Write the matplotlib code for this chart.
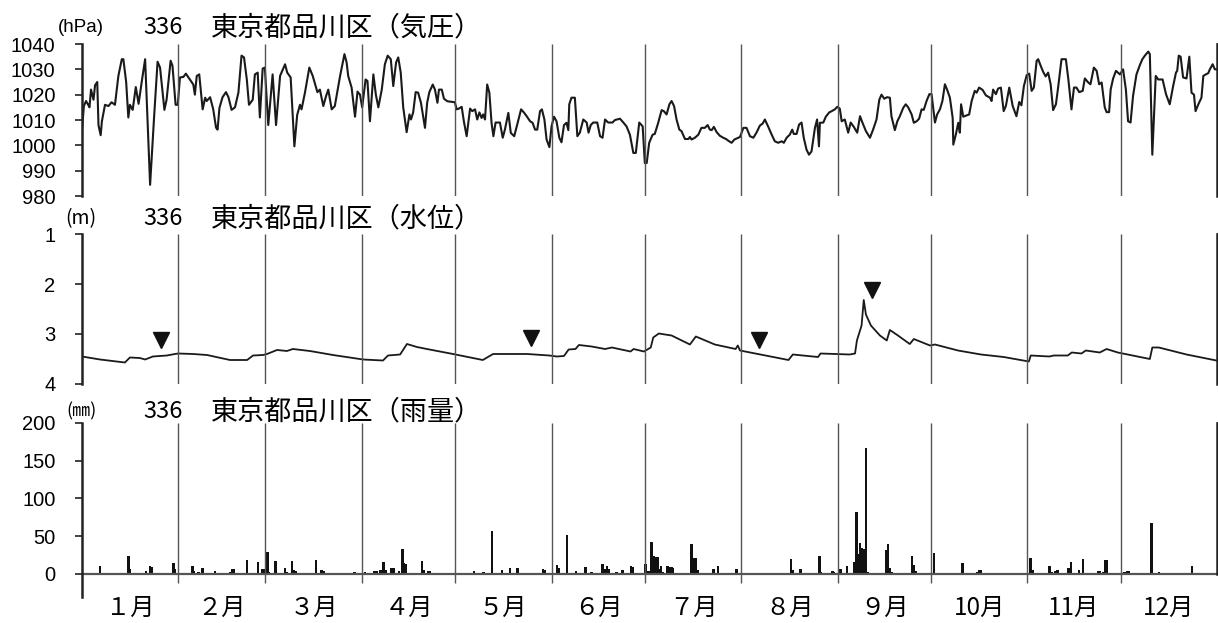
import matplotlib
matplotlib.use('Agg')
import numpy as np
import matplotlib.pyplot as plt

plt.rcParams['font.family'] = ['Noto Sans CJK JP', 'DejaVu Sans']

# ---- data (x = day of year, 0 = 1 Jan) ----
month_len = [31, 28, 31, 30, 31, 30, 31, 31, 30, 31, 30, 31]
month_labels = ['１月', '２月', '３月', '４月', '５月', '６月',
                '７月', '８月', '９月', '10月', '11月', '12月']

station = '336'
title_press = '東京都品川区（気圧）'
title_level = '東京都品川区（水位）'
title_rain = '東京都品川区（雨量）'

press_ticks = [980, 990, 1000, 1010, 1020, 1030, 1040]
level_ticks = [1, 2, 3, 4]
rain_ticks = [0, 50, 100, 150, 200]

p_day = [0.0, 0.6, 1.3, 2.0, 2.4, 2.9, 3.7, 4.2, 4.9, 5.3, 6.0, 6.4, 7.4, 8.5, 9.5, 10.6,
         11.7, 12.8, 13.3, 14.2, 14.9, 15.4, 16.3, 17.3, 18.2, 19.2, 20.3, 21.9, 23.2, 24.3,
         25.1, 26.5, 27.2, 28.5, 29.1, 30.1, 30.8, 31.5, 32.6, 33.4, 34.7, 35.8, 36.3, 36.9,
         37.7, 38.8, 39.6, 40.1, 41.2, 42.2, 43.1, 43.6, 44.2, 45.2, 46.3, 47.1, 48.1, 49.2,
         50.3, 51.3, 52.1, 53.0, 53.7, 54.9, 55.6, 56.5, 57.2, 58.1, 58.8, 59.9, 61.3, 62.4,
         63.7, 65.3, 66.0, 67.1, 68.3, 69.2, 70.1, 70.6, 71.7, 73.1, 74.2, 75.7, 76.5, 77.6,
         78.5, 79.2, 80.3, 81.3, 83.0, 84.4, 85.1, 85.6, 86.7, 87.8, 88.6, 89.4, 90.1, 91.2,
         91.8, 92.6,
         93.7, 94.5, 95.3, 96.4, 97.4, 98.3, 99.3, 100.1, 101.0, 101.7, 102.5, 103.3, 104.4,
         105.3, 105.8, 106.5, 107.3, 108.1, 109.0, 110.3, 111.0, 111.7, 112.8, 113.5, 114.3,
         114.8, 115.7, 116.4, 117.5, 119.9, 120.5, 121.2, 122.1, 122.8, 123.7, 124.8, 125.5,
         126.4, 127.1, 127.8, 128.5, 129.0, 129.6, 130.3, 131.0, 131.7, 132.3, 133.0, 134.4,
         135.3, 136.0, 137.1, 137.9, 139.0, 139.8, 141.2, 142.1, 143.0, 144.1, 144.9, 145.7,
         146.4, 147.3, 147.9, 148.7, 149.4, 150.3, 151.0, 151.8, 152.6, 153.5, 154.2, 155.0,
         155.8, 156.4, 156.7, 157.4, 158.5, 159.3, 160.1, 161.2, 162.3, 162.9, 163.6, 164.4,
         165.7, 166.6, 167.4, 168.2, 169.2, 170.6, 171.4, 173.0, 174.1, 175.1, 176.2, 177.3,
         178.1, 179.2, 180.3, 181.0,
         181.6, 182.4, 183.5, 184.2, 185.3, 186.4, 187.1, 188.0, 188.9, 189.6, 190.4, 191.2,
         192.1, 192.8, 193.9, 195.0, 195.5, 196.0, 197.1, 198.2, 199.2, 200.3, 201.2, 201.9,
         202.5, 203.2, 204.1, 205.1, 206.2, 207.1, 208.1, 208.9, 209.8, 211.6, 212.7, 213.7,
         214.8, 215.9, 216.9, 218.0, 218.9, 219.6, 220.7, 221.8, 222.8, 223.9, 225.0, 225.7,
         226.6, 227.6, 228.4, 228.9, 229.8, 230.6, 231.4, 232.1, 233.0, 233.8, 234.6, 235.7,
         236.4, 237.0, 237.3, 238.4, 239.2, 240.3, 241.1, 242.1, 242.9, 243.7, 244.3, 245.3,
         246.4, 247.2, 248.2, 249.3, 250.2, 251.0, 252.1, 253.4, 254.4, 255.5, 256.4, 257.1,
         258.0, 258.9, 259.8, 260.3, 261.4, 262.2, 263.0, 264.1, 264.9, 265.7, 266.8, 267.5,
         268.4, 269.2, 270.0, 270.7,
         271.6, 272.5, 273.2, 274.3, 275.0, 275.9, 276.7, 277.5, 278.2, 279.1, 280.0, 280.2,
         281.0, 281.8, 282.3, 282.7, 283.4, 284.5, 285.3, 286.1, 287.1, 287.7, 288.5, 289.6,
         290.7, 292.0, 292.5, 293.0, 293.9, 294.6, 295.5, 296.4, 297.1, 298.2, 299.3, 300.5,
         301.4, 302.1, 302.9, 303.8, 304.6, 305.4, 306.1, 307.0, 307.5, 308.3, 309.1, 309.9,
         310.7, 311.5, 312.3, 313.2, 313.9, 315.0, 316.4, 317.2, 318.2, 319.0, 319.8, 320.7,
         321.8, 322.5, 323.6, 324.3, 325.4, 326.3, 327.1, 327.9, 328.9, 329.5, 330.3, 330.8,
         331.6, 332.5, 333.8, 334.8, 335.7, 336.4, 337.2, 338.0, 339.1, 340.2, 341.0, 341.8,
         342.9, 343.4, 344.2, 345.3, 346.1, 347.5, 348.6, 349.8, 350.9, 351.8, 352.2, 352.7,
         353.3, 354.1, 355.2, 356.1, 356.8, 357.6, 358.1, 359.0, 360.0, 360.6, 361.4, 362.2,
         362.7, 363.6, 364.3, 365.0]
p_hpa = [1006.2, 1015.5, 1017.5, 1016.0, 1015.0, 1022.0, 1018.0, 1023.7, 1025.0, 1008.0,
         1004.0, 1009.5, 1016.0, 1015.5, 1017.0, 1016.0, 1027.4, 1034.0, 1034.0, 1025.0,
         1011.0, 1016.0, 1014.0, 1023.0, 1016.4, 1025.0, 1034.0, 984.4, 1011.5, 1033.0,
         1030.7, 1014.0, 1018.0, 1033.4, 1031.4, 1016.0, 1016.0, 1026.8, 1027.0, 1028.3,
         1026.0, 1024.0, 1020.0, 1027.4, 1028.0, 1014.2, 1018.8, 1017.5, 1019.0, 1014.2,
         1007.0, 1006.2, 1014.8, 1019.0, 1021.0, 1019.0, 1014.0, 1015.0, 1020.8, 1035.4,
         1034.7, 1026.0, 1016.0, 1018.0, 1028.0, 1028.7, 1011.0, 1030.3, 1030.7, 1008.0,
         1028.0, 1008.0, 1027.4, 1032.0, 1028.7, 1026.8, 999.6, 1012.0, 1016.0, 1014.2,
         1020.8, 1030.7, 1027.4, 1021.0, 1022.0, 1015.5, 1019.5, 1022.0, 1014.2, 1015.5,
         1027.4, 1036.0, 1032.7, 1027.4, 1022.8, 1011.3, 1021.2, 1020.0, 1015.0, 1026.0,
         1025.4, 1009.5,
         1028.0, 1020.0, 1015.0, 1022.0, 1032.0, 1035.4, 1034.0, 1023.4, 1032.7, 1034.7,
         1028.7, 1015.0, 1005.2, 1012.2, 1010.2, 1013.0, 1021.0, 1020.8, 1016.8, 1006.9,
         1016.8, 1021.0, 1024.0, 1022.0, 1016.8, 1022.0, 1022.0, 1018.4, 1017.4, 1017.0,
         1014.2, 1014.5, 1015.2, 1009.5, 1003.6, 1014.5, 1013.5, 1014.2, 1010.2, 1013.0,
         1010.8, 1012.2, 1010.2, 1024.0, 1020.8, 1008.9, 1003.6, 1009.0, 1009.0, 1003.0,
         1006.2, 1012.8, 1004.9, 1003.6, 1007.5, 1014.2, 1013.0, 1011.5, 1009.5, 1008.9,
         1006.2, 1006.2, 1013.5, 1014.2, 1010.2, 1002.3, 999.3, 1007.5, 1011.3, 1009.5,
         1003.0, 1001.2, 1008.0, 1008.9, 1006.0, 1016.2, 1018.8, 1018.8, 1003.6, 1005.0,
         1010.2, 1009.0, 1005.0, 1008.0, 1009.0, 1009.0, 1003.6, 1003.0, 1010.2, 1009.0,
         1009.0, 1010.0, 1010.5, 1009.0, 1007.5, 1004.2, 997.0, 997.0, 1009.0, 1007.5,
         993.0,
         993.0, 1001.0, 1004.2, 1004.5, 1008.9, 1013.9, 1013.5, 1012.2, 1016.2, 1017.5,
         1015.5, 1010.2, 1006.2, 1005.6, 1002.5, 1002.5, 1003.3, 1002.3, 1003.0, 1004.2,
         1006.9, 1006.9, 1008.0, 1006.2, 1006.0, 1007.3, 1005.2, 1003.8, 1003.0, 1002.5,
         1001.6, 1001.0, 1002.3, 1003.3, 1006.9, 1006.9, 1003.6, 1003.0, 1005.0, 1007.8,
         1008.6, 1010.2, 1007.3, 1004.2, 1001.6, 1001.0, 1001.6, 1001.0, 1003.0, 1004.2,
         1006.2, 1004.5, 1004.5, 1008.2, 1009.0, 1003.0, 998.3, 996.3, 997.6, 1006.9,
         1010.2, 999.6, 1008.9, 1009.0, 1011.3, 1013.0, 1013.5, 1014.2, 1015.2, 1014.5,
         1009.5, 1010.2, 1005.0, 1009.0, 1007.3, 1005.0, 1011.5, 1008.9, 1005.6, 1003.0,
         1006.2, 1010.2, 1018.0, 1020.0, 1018.4, 1019.0, 1018.8, 1011.5, 1006.0, 1009.5,
         1011.5, 1014.8, 1016.2, 1015.0, 1012.2, 1008.9, 1009.5, 1010.5, 1014.2, 1014.0,
         1017.5, 1020.2, 1020.2, 1009.0, 1012.2, 1014.2, 1017.5, 1024.1, 1022.0, 1018.8,
         1010.8, 1000.3, 1004.2, 1008.9, 1005.0, 1016.2, 1011.3, 1011.8, 1012.2, 1017.5,
         1021.5, 1020.8, 1022.8, 1021.9, 1019.7, 1018.8, 1017.5, 1022.0, 1020.2, 1022.4,
         1022.8, 1013.5, 1015.5, 1022.8, 1015.5, 1011.5, 1017.1, 1015.8, 1023.4, 1027.7,
         1028.3, 1021.5, 1022.8, 1033.4, 1034.0, 1031.4, 1029.0, 1027.2, 1028.7, 1024.1,
         1013.9, 1016.2, 1022.8, 1034.0, 1034.0, 1026.0, 1014.2, 1022.8, 1022.8, 1021.0,
         1021.5, 1026.4, 1024.8, 1024.1, 1030.7, 1029.4, 1024.1, 1024.8, 1015.0, 1013.1,
         1013.1, 1022.0, 1026.4, 1029.4, 1028.0, 1030.0, 1022.0, 1009.5, 1009.0, 1019.5,
         1028.0, 1031.7, 1034.0, 1035.4, 1037.0, 1036.0, 996.3, 1027.4, 1026.0, 1026.0,
         1020.2, 1016.2, 1023.4, 1028.7, 1029.4, 1035.4, 1035.0, 1026.8, 1026.4, 1035.0,
         1020.8, 1020.0, 1013.5, 1016.2, 1018.8, 1027.4, 1028.0, 1028.5, 1030.0, 1032.0,
         1030.0, 1030.0]

w_day = [0.0, 5.8, 13.8, 15.4, 18.6, 20.3, 22.8, 27.3, 29.9, 30.9, 35.7, 40.2, 47.6, 53.1,
         55.0, 58.2, 59.5, 62.7, 65.9, 67.8, 73.3, 80.7, 90.4, 96.8, 98.4, 102.3, 104.5,
         107.7, 110.9, 119.3, 128.9, 132.2, 134.4, 143.2, 150.3, 152.7, 155.0, 156.5, 158.7,
         159.8, 163.9, 168.2, 170.4, 176.4, 177.4, 180.7, 182.9, 183.7, 185.5, 187.5, 189.6,
         195.5, 197.4, 203.5, 210.2, 210.9, 211.6, 219.8, 227.2, 228.6, 236.7, 237.5, 246.9,
         248.6, 249.2, 250.7, 251.4, 252.1, 253.7, 256.6, 258.8, 259.8, 262.4, 266.2, 267.5,
         272.7, 274.3, 281.7, 289.1, 296.4, 304.5, 305.1, 311.1, 312.5, 317.0, 318.3, 321.4,
         322.8, 327.3, 329.5, 333.1, 343.4, 344.2, 346.3, 355.2, 364.8]
w_lvl = [3.45, 3.51, 3.57, 3.47, 3.48, 3.51, 3.45, 3.43, 3.40, 3.39, 3.40, 3.42, 3.52, 3.52,
         3.43, 3.42, 3.40, 3.32, 3.34, 3.30, 3.34, 3.42, 3.51, 3.53, 3.43, 3.41, 3.20, 3.26,
         3.30, 3.40, 3.52, 3.40, 3.40, 3.40, 3.43, 3.45, 3.44, 3.31, 3.30, 3.22, 3.25, 3.30,
         3.27, 3.35, 3.30, 3.35, 3.27, 3.07, 2.99, 3.01, 3.03, 3.21, 3.05, 3.21, 3.30, 3.23,
         3.33, 3.43, 3.52, 3.41, 3.46, 3.39, 3.41, 3.39, 3.13, 2.83, 2.32, 2.61, 2.83, 3.03,
         3.13, 2.92, 3.03, 3.20, 3.10, 3.23, 3.21, 3.33, 3.41, 3.46, 3.55, 3.43, 3.45, 3.43,
         3.43, 3.37, 3.39, 3.33, 3.37, 3.30, 3.37, 3.50, 3.27, 3.27, 3.41, 3.53]

mark_day = [25.4, 144.4, 217.7, 254.0]
mark_lvl = [3.12, 3.08, 3.12, 2.12]

r_day = [5.8, 14.9, 15.3, 20.6, 21.8, 22.3, 25.6, 29.5, 29.9, 35.5, 36.0, 37.4, 38.7, 42.8,
         47.8, 48.4, 48.9, 52.5, 53.0, 53.6, 56.6, 58.1, 58.5, 59.6, 60.0, 62.2, 65.3, 65.9,
         67.6, 68.2, 68.7, 75.2, 77.0, 77.6, 87.7, 91.0, 94.1, 94.8, 96.0, 96.5, 97.0, 97.6,
         99.5, 100.3, 102.0, 103.0, 103.6, 104.2, 106.5, 109.4, 110.0, 111.2, 111.7, 126.0,
         129.1, 131.8, 135.0, 137.6, 140.0, 148.2, 148.9, 152.8, 153.4, 156.0, 158.9, 161.9,
         163.9, 167.4, 168.0, 168.9, 169.5, 171.9, 173.8, 176.5, 177.1, 181.2, 181.9, 182.7,
         183.2, 183.8, 184.4, 185.0, 185.6, 186.2, 186.8, 188.3, 188.9, 189.5, 190.1, 196.0,
         197.0, 197.5, 198.1, 203.1, 204.5, 210.5, 221.0, 223.0, 228.0, 228.6, 231.0, 237.1,
         237.5, 239.5, 241.3, 241.9, 243.4, 244.0, 246.0, 248.4, 249.0, 249.7, 250.2, 250.8,
         251.4, 252.1, 252.7, 258.6, 259.2, 259.8, 260.3, 266.9, 267.4, 268.0, 268.5, 274.0,
         283.1, 287.9, 288.5, 289.1, 300.5, 305.1, 305.7, 311.2, 311.8, 313.1, 313.7, 317.3,
         318.1, 320.7, 321.9, 326.7, 327.3, 328.5, 329.1, 329.7, 335.3, 336.1, 336.7, 343.9,
         346.3, 356.9]
r_mm = [10.6, 24.3, 6.6, 4.4, 10.6, 9.7, 1.8, 15.0, 6.0, 10.6, 4.4, 3.0, 7.5, 4.4,
        3.0, 6.2, 6.6, 1.8, 18.5, 1.8, 15.5, 6.2, 6.2, 28.7, 3.0, 17.7, 7.5, 3.0,
        16.8, 5.3, 4.4, 18.5, 5.3, 4.4, 2.2, 3.0, 4.0, 4.0, 5.3, 5.3, 15.9, 5.3,
        7.5, 7.5, 4.4, 33.0, 14.0, 13.0, 1.8, 17.2, 5.3, 4.4, 4.4, 4.4,
        2.6, 57.0, 5.3, 7.5, 7.5, 6.6, 5.3, 11.9, 7.5, 51.7, 4.4, 8.8,
        2.6, 12.8, 6.6, 10.6, 7.0, 2.6, 5.3, 11.0, 8.8, 12.8, 4.4, 4.4,
        42.8, 23.8, 23.0, 23.0, 6.2, 10.6, 3.0, 10.6, 9.7, 9.7, 7.5, 39.3,
        21.6, 21.6, 5.3, 6.2, 10.6, 6.2, 1.0, 1.0, 19.4, 5.3, 6.2, 24.3,
        3.0, 1.8, 4.0, 3.0, 6.2, 6.2, 10.6, 15.5, 81.7, 26.0, 41.5, 34.0,
        33.0, 166.4, 3.0, 31.8, 39.7, 8.4, 3.0, 24.3, 11.9, 4.4, 1.8, 27.4,
        15.0, 3.0, 5.3, 5.3, 1.8, 20.8, 5.3, 10.6, 3.0, 4.4, 5.3, 7.5,
        16.3, 5.3, 19.4, 4.4, 4.4, 3.0, 18.5, 18.5, 3.0, 4.4, 4.4, 67.0,
        2.2, 10.6]

# ---- layout ----
W, H = 1218, 623
bounds = np.cumsum(month_len)
mids = bounds - np.array(month_len) / 2.0


def box(top, bottom):
    return [82 / W, 1 - bottom / H, 1135 / W, (bottom - top) / H]


def px(x, y):
    return x / W, 1 - y / H


def style(ax, ticks, lo, hi):
    ax.set_xlim(0, 365)
    for s in ('top', 'bottom'):
        ax.spines[s].set_visible(False)
    for s in ('left', 'right'):
        ax.spines[s].set_linewidth(1.8)
        ax.spines[s].set_color('#222222')
    ax.set_xticks([])
    ax.set_yticks(ticks)
    ax.tick_params(axis='y', which='both', direction='out', length=5, width=1.2,
                   color='#222222', left=True, right=True, labelright=False, pad=14)
    for lab in ax.get_yticklabels():
        lab.set_fontfamily('Liberation Sans')
        lab.set_fontsize(14.5)
    ax.vlines(bounds[:-1], lo, hi, color='#555555', lw=1.0)


fig = plt.figure(figsize=(W / 100, H / 100), dpi=100)

ax1 = fig.add_axes(box(44, 196))
ax1.plot(p_day, p_hpa, color='#1a1a1a', lw=1.5)
ax1.set_ylim(980, 1040)
style(ax1, press_ticks, 980, 1040)

ax2 = fig.add_axes(box(234, 384))
ax2.plot(w_day, w_lvl, color='#1a1a1a', lw=1.3)
ax2.plot(mark_day, mark_lvl, 'v', color='#111111', ms=12, clip_on=False)
ax2.set_ylim(4, 1)
style(ax2, level_ticks, 1, 4)

ax3 = fig.add_axes(box(423, 596.6))
ax3.bar(r_day, r_mm, width=0.8, color='#111111', align='center')
ax3.axhline(0, color='#555555', lw=1.6)
ax3.set_ylim(-30, 200)
style(ax3, rain_ticks, -12, 200)
ax3.spines['right'].set_bounds(0, 200)
for m, lab in zip(mids, month_labels):
    ax3.text(m, -0.065, lab, transform=ax3.get_xaxis_transform(),
             ha='center', va='center', fontsize=17.5)

# ---- headings ----
fig.text(*px(81, 27), '(hPa)', ha='center', va='center', fontsize=13.5,
         family='Liberation Sans')
fig.text(*px(81, 219), '(m)', ha='center', va='center', fontsize=14)
fig.text(*px(81, 411), '(㎜)', ha='center', va='center', fontsize=13)
for y, t in ((28, title_press), (219, title_level), (412, title_rain)):
    fig.text(*px(163, y), station, ha='center', va='center', fontsize=17)
    fig.text(*px(211, y), t, ha='left', va='center', fontsize=19.5)

fig.savefig('out.png', dpi=100)
